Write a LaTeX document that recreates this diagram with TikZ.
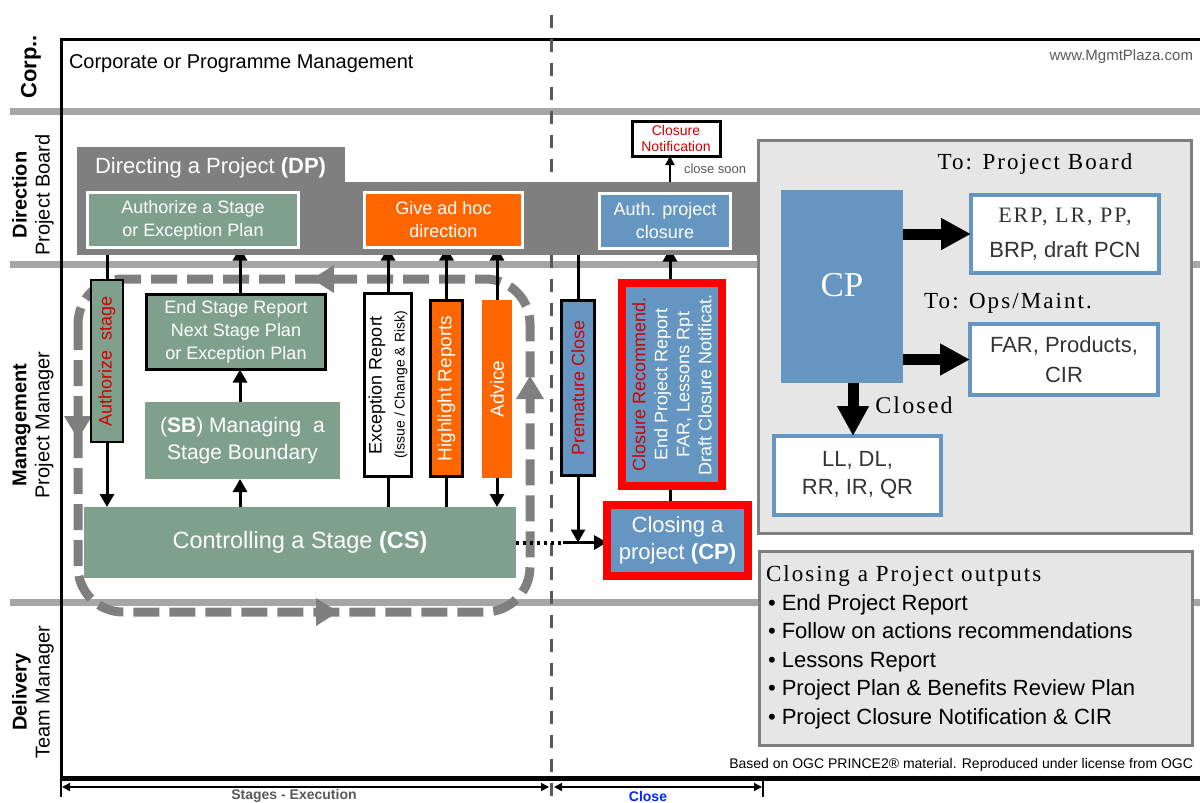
\documentclass[tikz,border=0pt]{standalone}
\usepackage{fontspec}
\setmainfont{Liberation Sans}
\newfontfamily\spserif[LetterSpace=9]{Liberation Serif}
\newfontfamily\plserif{Liberation Serif}
\usetikzlibrary{arrows.meta}
\newcommand\fsz[2]{\fontsize{#1pt}{#2pt}\selectfont}
\definecolor{pgreen}{RGB}{126,160,141}
\definecolor{pblue}{RGB}{101,150,193}
\definecolor{porange}{RGB}{255,102,0}
\definecolor{dpgray}{RGB}{127,127,127}
\definecolor{lanegray}{RGB}{166,166,166}
\definecolor{lightg}{RGB}{230,230,230}
\definecolor{dkgray}{RGB}{89,89,89}
\definecolor{tred}{RGB}{210,0,0}
\definecolor{closeblue}{RGB}{0,40,255}
\pgfdeclarelayer{bg}\pgfdeclarelayer{mid}\pgfsetlayers{bg,mid,main}
\begin{document}
\begin{tikzpicture}[x=1pt,y=-1pt,
  every node/.style={inner sep=0pt,outer sep=0pt},
  lane/.style={draw=lanegray,line width=7pt},
  arr/.style={line width=3pt,-{Triangle[length=13pt,width=14pt]}},
  arrboth/.style={line width=3pt,{Triangle[length=13pt,width=14pt]}-{Triangle[length=13pt,width=14pt]}},
  bigarr/.style={line width=11pt,-{Triangle[length=30pt,width=30pt]}},
  smallarr/.style={line width=2pt,-{Triangle[length=9pt,width=9pt]}},
  dimarr/.style={line width=1.5pt,{Triangle[length=8pt,width=8pt]}-{Triangle[length=8pt,width=8pt]}},
  gbox/.style={fill=pgreen,text=white,align=center},
  obox/.style={fill=porange,text=white,align=center},
  bbox/.style={fill=pblue,text=white,align=center},
  wbord/.style={draw=white,line width=3pt},
  kbord/.style={draw=black,line width=3pt},
  rbord/.style={draw=red,line width=8pt},
  outbox/.style={draw=pblue,line width=4pt,fill=white,align=center,text=black!80},
  lanelbl/.style={rotate=90,align=center,font=\fsz{20}{23}},
  loopline/.style={draw=dpgray,line width=9pt,dash pattern=on 26pt off 10pt,rounded corners=45pt},
]
\useasboundingbox (0,0) rectangle (1200,803);

% ---------- main nodes ----------
\node[fill=dpgray,minimum width=680pt,minimum height=73pt,anchor=north west] (dpband) at (77,182) {};
\node[fill=dpgray,minimum width=268pt,minimum height=37pt,anchor=north west] (dptab) at (77,147) {};
\node[anchor=west,text=white,font=\fsz{22}{26}] (dptitle) at (95,168) {Directing a Project \textbf{(DP)}};

\node[gbox,wbord,minimum width=211pt,minimum height=55pt,font=\fsz{18}{23}] (authA) at (193,220) {Authorize a Stage\\or Exception Plan};
\node[obox,wbord,minimum width=158pt,minimum height=55pt,font=\fsz{18}{23}] (adhoc) at (443.5,220) {Give ad hoc\\direction};
\node[bbox,wbord,minimum width=131pt,minimum height=55pt,font=\fsz{18}{23}] (authC) at (665,221) {Auth. project\\closure};
\node[fill=white,kbord,minimum width=88pt,minimum height=35pt,align=center,text=tred,font=\fsz{14}{16}] (closN) at (676,138.5) {Closure\\Notification};
\node[anchor=west,text=dkgray,font=\fsz{13}{15}] (closeSoon) at (684,169) {close soon};

\node[lanelbl,font=\bfseries\fsz{22}{24}] (lCorp) at (31,67) {Corp..};
\node[lanelbl] (lDir) at (33,195) {\textbf{Direction}\\Project Board};
\node[lanelbl] (lMan) at (33,425) {\textbf{Management}\\Project Manager};
\node[lanelbl] (lDel) at (33,692) {\textbf{Delivery}\\Team Manager};
\node[anchor=west,font=\fsz{20}{24}] (corpTxt) at (69,64) {Corporate or Programme Management};
\node[anchor=east,text=dkgray,font=\fsz{15}{18}] (www) at (1193,57) {www.MgmtPlaza.com};

\node[rotate=90,fill=pgreen,draw=black,line width=2.5pt,minimum width=162pt,minimum height=32pt,text=tred,font=\fsz{18}{22}] (authS) at (107,361) {Authorize\ \ stage};
\node[gbox,kbord,minimum width=179pt,minimum height=75pt,font=\fsz{18}{22.7}] (esr) at (236,332) {End Stage Report\\Next Stage Plan\\or Exception Plan};
\node[gbox,minimum width=195pt,minimum height=77pt,font=\fsz{21}{27}] (sb) at (242.5,440.5) {(\textbf{SB}) Managing\ \ a\\Stage Boundary};
\node[rotate=90,fill=white,kbord,minimum width=183pt,minimum height=47pt,align=center,font=\fsz{18}{23}] (exc) at (388,385) {Exception Report\\{\fsz{14}{16}(Issue / Change \& Risk)}};
\node[rotate=90,obox,kbord,minimum width=176pt,minimum height=32pt,font=\fsz{19}{22}] (hr) at (446.5,388.5) {Highlight Reports};
\node[rotate=90,obox,minimum width=178pt,minimum height=30pt,font=\fsz{19}{22}] (adv) at (497,389) {Advice};
\node[gbox,minimum width=432pt,minimum height=71pt,font=\fsz{23.5}{28}] (cs) at (300,542.5) {Controlling a Stage \textbf{(CS)}};

\node[rotate=90,bbox,kbord,minimum width=175pt,minimum height=33pt,text=tred,font=\fsz{18}{22}] (prem) at (578,388) {Premature Close};
\node[rotate=90,bbox,rbord,minimum width=203pt,minimum height=100pt,font=\fsz{18}{22}] (crec) at (672,384.5) {{\color{tred}Closure Recommend.}\\End Project Report\\FAR, Lessons Rpt\\Draft Closure Notificat.};
\node[bbox,rbord,minimum width=141pt,minimum height=71pt,font=\fsz{22}{27}] (clp) at (677.5,540.5) {Closing a\\project \textbf{(CP)}};

% right panel
\node[fill=lightg,draw=dpgray,line width=3pt,minimum width=433pt,minimum height=393pt] (bigbox) at (975,337) {};
\node[anchor=center,font=\spserif\fsz{23}{26}] (toPB) at (1035,164) {To: Project Board};
\node[fill=pblue,minimum width=122pt,minimum height=193pt] (cpb) at (842,286.5) {};
\node[text=white,font=\plserif\fsz{35}{38}] (cpTxt) at (842,285) {CP};
\node[outbox,minimum width=188pt,minimum height=78pt,font=\fsz{22}{35}] (erp) at (1065,234) {{\spserif ERP, LR, PP,}\\BRP, draft PCN};
\node[anchor=center,font=\spserif\fsz{23}{26}] (toOps) at (1008,303) {To: Ops/Maint.};
\node[outbox,minimum width=188pt,minimum height=71pt,font=\fsz{22}{30}] (far) at (1064,359.5) {FAR, Products,\\CIR};
\node[outbox,minimum width=167pt,minimum height=79pt,font=\fsz{22}{28}] (ll) at (857.5,475.5) {LL, DL,\\RR, IR, QR};
\node[anchor=center,font=\spserif\fsz{24}{26}] (closed) at (914,405) {Closed};
\coordinate (xdown) at (853,0);
\draw[bigarr] (cpb.east |- erp.west) -- (erp.west);
\draw[bigarr] (cpb.east |- far.west) -- (far.west);
\draw[bigarr] (cpb.south -| xdown) -- (ll.north -| xdown);

\node[fill=lightg,draw=dpgray,line width=3pt,minimum width=433pt,minimum height=194pt] (outs) at (976,648.5) {};
\node[anchor=base west,font=\spserif\fsz{23}{26}] (outTitle) at (766,581) {Closing a Project outputs};
\node[anchor=base west,font=\fsz{22}{26}] (bul1) at (768,610) {• End Project Report};
\node[anchor=base west,font=\fsz{22}{26}] (bul2) at (768,638.5) {• Follow on actions recommendations};
\node[anchor=base west,font=\fsz{22}{26}] (bul3) at (768,667) {• Lessons Report};
\node[anchor=base west,font=\fsz{22}{26}] (bul4) at (768,695.5) {• Project Plan \& Benefits Review Plan};
\node[anchor=base west,font=\fsz{22}{26}] (bul5) at (768,724) {• Project Closure Notification \& CIR};

\node[anchor=east,font=\fsz{14}{16}] (foot) at (1193,765) {Based on OGC PRINCE2® material. Reproduced under license from OGC};

% bottom dimensions
\coordinate (sxL) at (62,787);
\coordinate (sxR) at (549,787);
\coordinate (clL) at (554,787);
\coordinate (clR) at (762,787);
\draw[dimarr] (sxL) -- (sxR);
\draw[dimarr] (clL) -- (clR);
\draw[line width=2pt] (763,778) -- (763,797);
\draw[line width=2pt] (61,778) -- (61,797);
\node[text=dkgray,font=\bfseries\fsz{14}{16}] (stx) at (294,796) {Stages - Execution};
\node[text=closeblue,font=\bfseries\fsz{14}{16}] (clx) at (648,796) {Close};

% ---------- background ----------
\begin{pgfonlayer}{bg}
\draw[lane] (10,111) -- (1200,111);
\draw[lane] (10,264) -- (1200,264);
\draw[lane] (10,602) -- (1200,602);
\draw[line width=3pt] (61,39) -- (1200,39);
\draw[line width=3pt] (61,37.5) -- (61,779);
\draw[line width=5pt] (61,778) -- (1200,778);
\draw[draw=dkgray,line width=3pt,dash pattern=on 13pt off 11pt] (551,15) -- (551,803);
\draw[loopline] (78,279) rectangle (530,612);
\fill[dpgray] (312,279) -- (334,265) -- (334,293) -- cycle;
\fill[dpgray] (78,439) -- (64,416) -- (92,416) -- cycle;
\fill[dpgray] (530,376) -- (516,399) -- (544,399) -- cycle;
\fill[dpgray] (338,612) -- (316,598) -- (316,626) -- cycle;
\end{pgfonlayer}

% ---------- connectors ----------
\begin{pgfonlayer}{mid}
\coordinate (xesr) at (240,0);
\coordinate (xc) at (670,0);
\draw[arr] (authA.south -| authS.center) -- (cs.north -| authS.center);
\draw[arr] (esr.north -| xesr) -- (authA.south -| xesr);
\draw[arr] (sb.north -| xesr) -- (esr.south -| xesr);
\draw[arr] (cs.north -| xesr) -- (sb.south -| xesr);
\draw[arr] (cs.north -| exc.center) -- (adhoc.south -| exc.center);
\draw[arr] (cs.north -| hr.center) -- (adhoc.south -| hr.center);
\draw[arrboth] (adhoc.south -| adv.center) -- (cs.north -| adv.center);
\coordinate (pj) at (cs.east -| prem.center);
\coordinate (dj) at (563,542.5);
\draw[arr] (dpband.south -| prem.center) -- (pj);
\draw[line width=4pt,dash pattern=on 3pt off 4pt] (cs.east) -- (dj);
\draw[arr] (dj) -- (cs.east -| clp.west);
\draw[arr] (crec.east -| xc) -- (authC.south -| xc);
\draw[line width=3pt] (clp.north -| xc) -- (crec.west -| xc);
\draw[smallarr] (authC.north -| xc) -- (closN.south -| xc);
\end{pgfonlayer}
\end{tikzpicture}
\end{document}
